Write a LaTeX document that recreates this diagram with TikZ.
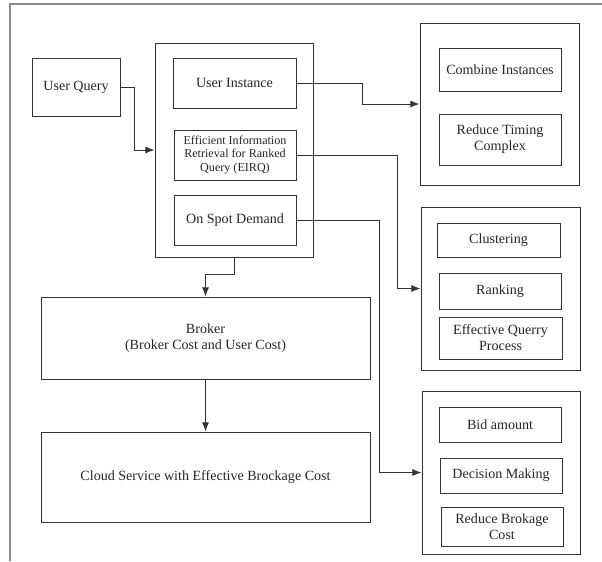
\documentclass[tikz,border=0pt]{standalone}
\usepackage{fontspec}
\setmainfont{Liberation Serif}
\usetikzlibrary{arrows.meta}
\definecolor{linegray}{HTML}{333333}
\definecolor{framegray}{HTML}{8A8A8A}
\begin{document}
\begin{tikzpicture}[x=0.025cm, y=-0.025cm,
    box/.style={draw=linegray, rectangle, line width=0.7pt, inner sep=1pt, align=center, text=black!85, font=\fontsize{10}{11.5}\selectfont},
    boxsize/.style 2 args={minimum width=#1*0.025cm, minimum height=#2*0.025cm},
    arr/.style={draw=linegray, line width=0.7pt, -{Latex[length=6.5pt, width=5pt]}}]
    \useasboundingbox (0,0) rectangle (602,561);

    % Cadre
    \draw[framegray, line width=1.1pt] (10,561) -- (10,4) -- (602,4);

    % Requête utilisateur
    \node[box, boxsize={88}{58}] (uquery) at (76,87) {User Query};

    % Bloc central
    \node[box, boxsize={158}{214}] (mid) at (234,150) {};
    \node[box, boxsize={123}{50}] (uinst) at (234.5,83) {User Instance};
    \node[box, boxsize={122}{50}, font=\fontsize{8.6}{9.8}\selectfont] (eirq) at (235,155) {Efficient Information\\Retrieval for Ranked\\Query (EIRQ)};
    \node[box, boxsize={122}{50}] (spot) at (235,220) {On Spot Demand};

    % Broker et service cloud
    \node[box, boxsize={329}{82}] (broker) at (205.5,338) {Broker\\(Broker Cost and User Cost)};
    \node[box, boxsize={329}{90}] (cloud) at (205.5,477) {Cloud Service with Effective Brockage Cost};

    % Bloc instances
    \node[box, boxsize={159}{162}] (right1) at (499.5,104) {};
    \node[box, boxsize={122}{43}] (combine) at (500,69.5) {Combine Instances};
    \node[box, boxsize={122}{51}] (timing) at (500,139.5) {Reduce Timing\\Complex};

    % Bloc requêtes
    \node[box, boxsize={159}{163}] (right2) at (500.5,288.5) {};
    \node[box, boxsize={123}{34}] (cluster) at (498.5,240) {Clustering};
    \node[box, boxsize={122}{36}] (ranking) at (500,291) {Ranking};
    \node[box, boxsize={123}{42}] (eqp) at (500.5,338) {Effective Querry\\Process};

    % Bloc enchères
    \node[box, boxsize={158}{163}] (right3) at (501,472.5) {};
    \node[box, boxsize={122}{35}] (bid) at (500,424.5) {Bid amount};
    \node[box, boxsize={122}{35}] (decision) at (501,475.5) {Decision Making};
    \node[box, boxsize={122}{39}] (brokage) at (502,526.5) {Reduce Brokage\\Cost};

    % Flèches principales
    \draw[arr] (uquery.east) -- ++(14,0) |- (mid.west);
    \draw[arr] (mid.south) -- ++(0,17) -| (broker.north);
    \draw[arr] (broker.south) -- (cloud.north);

    % Flèches vers les blocs de droite
    \draw[arr] (uinst.east) -- ++(66,0) |- (right1.west);
    \draw[arr] (eirq.east) -- ++(101,0) |- (right2.west);
    \draw[arr] (spot.east) -- ++(83,0) |- (right3.west);

\end{tikzpicture}
\end{document}
